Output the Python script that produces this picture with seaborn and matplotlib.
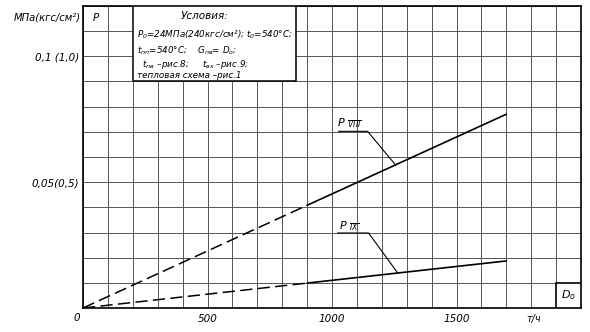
import matplotlib
matplotlib.use('Agg')
import matplotlib.pyplot as plt
from matplotlib.patches import Rectangle
import seaborn as sns
import numpy as np
import pandas as pd

# ---- data ----
d0 = [0, 900, 1700]                 # D0, t/h
p_viii = [0.0, 0.0408, 0.0770]      # P VIII, MPa
p_ix = [0.0, 0.0099, 0.0187]        # P IX, MPa
x_ticks = [500, 1000, 1500]
x_tick_labels = ['500', '1000', '1500']
y_ticks = [0.05, 0.10]
y_tick_labels = ['0,05(0,5)', '0,1 (1,0)']
x_unit = 'т/ч'
y_unit = 'МПа(кгс/см²)'
cond_title = 'Условия:'
cond_lines = [
    r'$P_0$=24МПа(240кгс/см²); $t_0$=540°C;',
    r'$t_{пп}$=540°C;    $G_{пв}$= $D_о$;',
    r'  $t_{пв}$ –рис.8;     $t_{вх}$ –рис.9;',
    'тепловая схема –рис.1',
]

sns.set_style('white')
plt.rcParams['font.family'] = ['DejaVu Sans']
plt.rcParams['mathtext.fontset'] = 'dejavusans'
plt.rcParams['font.style'] = 'italic'
plt.rcParams['text.color'] = 'black'
plt.rcParams['xtick.color'] = 'black'
plt.rcParams['ytick.color'] = 'black'

W, H = 590, 332
fig = plt.figure(figsize=(W / 100, H / 100), dpi=100)
ax = fig.add_axes([83 / W, 1 - 308 / H, (581 - 83) / W, (308 - 6) / H])
ax.set_xlim(0, 2000)
ax.set_ylim(0, 0.12)

# grid
ax.set_xticks(np.arange(0, 2001, 100), minor=True)
ax.set_yticks(np.arange(0, 0.1201, 0.01), minor=True)
ax.set_xticks(x_ticks)
ax.set_xticklabels(x_tick_labels, fontsize=7.5, style='italic')
ax.set_yticks(y_ticks)
ax.set_yticklabels(y_tick_labels, fontsize=7.5, style='italic')
ax.tick_params(which='both', length=0)
ax.tick_params(axis='x', pad=4)
ax.tick_params(axis='y', pad=2.5)
ax.grid(which='both', color='#555555', lw=0.7)
ax.set_axisbelow(True)
for s in ax.spines.values():
    s.set_color('black')
    s.set_linewidth(1.2)
ax.set_xlabel('')
ax.set_ylabel('')

# lines: dashed part then solid part
dash = (0, (8, 3.5))
for p in (p_viii, p_ix):
    sns.lineplot(x=d0[:2], y=p[:2], ax=ax, color='black', lw=1.1,
                 linestyle=dash, sort=False, zorder=4)
    sns.lineplot(x=d0[1:], y=p[1:], ax=ax, color='black', lw=1.2,
                 sort=False, zorder=4)

# curve labels with leader lines
def leader(p, label, lx, ly, ux0, ux1, uy, xt):
    ax.text(lx, ly, label, fontsize=8, ha='center', va='center', zorder=5)
    ax.plot([ux0, ux1, xt], [uy, uy, np.interp(xt, d0, p)],
            color='black', lw=0.8, zorder=5)

leader(p_viii, r'$P\ _{\overline{\mathrm{VIII}}}$', 1068, 0.0735, 1026, 1143, 0.0702, 1255)
leader(p_ix, r'$P\ _{\overline{\mathrm{IX}}}$', 1070, 0.0328, 1022, 1147, 0.0298, 1264)

# conditions box
ax.add_patch(Rectangle((200, 0.09), 655, 0.03, facecolor='white',
                       edgecolor='black', lw=1.1, zorder=3))
ax.text(490, 0.1162, cond_title, fontsize=7.5, ha='center', va='center', zorder=5)
ys = [0.1084, 0.1022, 0.0967, 0.0922]
xs = [218, 218, 218, 218]
for x, y, t in zip(xs, ys, cond_lines):
    ax.text(x, y, t, fontsize=6.3, ha='left', va='center', zorder=5)

# header cell "P" and units
ax.text(50, 0.1152, 'P', fontsize=7.5, ha='center', va='center')
fig.text(81 / W, 1 - 18 / H, y_unit, fontsize=7.2, ha='right', va='center', style='italic')
fig.text(77 / W, 1 - 318 / H, '0', fontsize=7.5, ha='center', va='center', style='italic')
ax.text(1810, -0.0042, x_unit, fontsize=7, ha='center', va='center', clip_on=False)

# D0 cell
ax.add_patch(Rectangle((1900, 0), 100, 0.01, facecolor='white',
                       edgecolor='black', lw=1.2, zorder=3))
ax.text(1950, 0.005, r'$D_о$', fontsize=8, ha='center', va='center', zorder=5)

fig.savefig('out.png', dpi=100)
